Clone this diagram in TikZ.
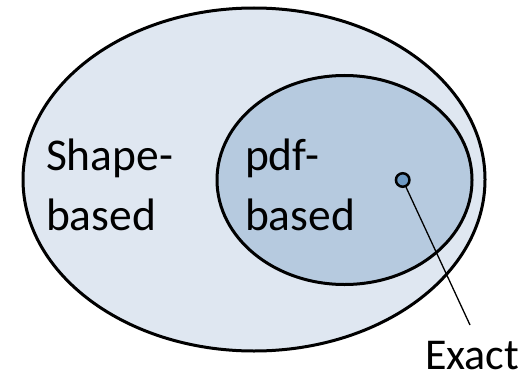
\documentclass[tikz,border=0pt]{standalone}
\usepackage{fontspec}
\setmainfont{Carlito}
\usetikzlibrary{shapes.geometric}
\definecolor{outerfill}{HTML}{DFE7F1}
\definecolor{innerfill}{HTML}{B6CADF}
\definecolor{dotfill}{HTML}{6E9AC4}
\tikzset{
  setbox/.style={ellipse, draw=black, line width=3pt, inner sep=0pt, outer sep=0pt},
  label text/.style={inner sep=0pt, outer sep=0pt, anchor=base west, align=left,
    font=\fontsize{45.5}{60}\selectfont},
}
\begin{document}
\begin{tikzpicture}[x=1pt, y=-1pt]
  \useasboundingbox (0,0) rectangle (529,377);
  % nested sets
  \node[setbox, fill=outerfill, minimum width=462pt, minimum height=343pt] (outer) at (254,179.5) {};
  \node[setbox, fill=innerfill, minimum width=255pt, minimum height=209pt] (inner) at (344.5,180) {};
  % single point in the inner set
  \node[circle, draw=black, line width=2.5pt, fill=dotfill, minimum size=13.5pt, inner sep=0pt] (dot) at (402.7,180) {};
  % labels
  \node[label text] (shape) at (46,170) {Shape-};
  \node[label text] (shapeb) at (46,230) {based};
  \node[label text] (pdf) at (245,170) {pdf-};
  \node[label text] (pdfb) at (245,230) {based};
  \node[label text, font=\fontsize{44}{50}\selectfont] (exact) at (425,369) {Exact};
  % pointer from the point to its label
  \coordinate (tip) at (470,325);
  \draw[line width=1.3pt] (dot) -- (tip);
\end{tikzpicture}
\end{document}
